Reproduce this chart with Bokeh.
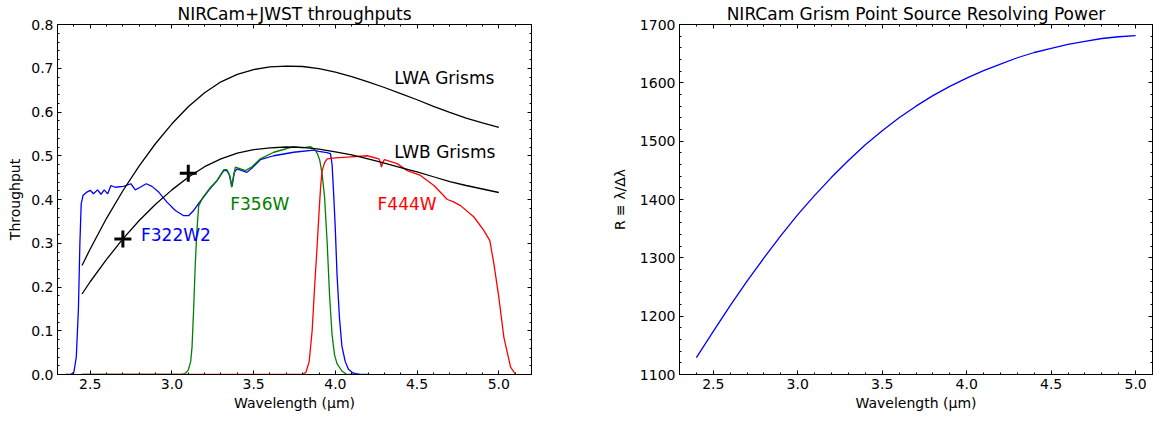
import numpy as np
from bokeh.plotting import figure
from bokeh.layouts import row
from bokeh.models import LinearAxis, FixedTicker, PrintfTickFormatter, Label, Range1d
from bokeh.embed import file_html
from bokeh.resources import INLINE

FONT = "DejaVu Sans"

# ---------------- data: left panel (throughputs) ----------------
grism_wl = [2.45, 2.5, 2.6, 2.7, 2.8, 2.9, 3.0, 3.1, 3.2, 3.3, 3.4, 3.5, 3.6, 3.7,
            3.8, 3.9, 4.0, 4.1, 4.2, 4.3, 4.4, 4.5, 4.6, 4.7, 4.8, 4.9, 5.0]
lwa_tp = [0.249, 0.287, 0.357, 0.420, 0.477, 0.528, 0.573, 0.612, 0.644, 0.669, 0.686,
          0.697, 0.703, 0.705, 0.704, 0.699, 0.691, 0.681, 0.669, 0.656, 0.642, 0.628,
          0.613, 0.599, 0.586, 0.575, 0.565]
lwb_tp = [0.184, 0.212, 0.263, 0.310, 0.352, 0.389, 0.422, 0.451, 0.475, 0.493, 0.506,
          0.514, 0.518, 0.520, 0.519, 0.515, 0.509, 0.502, 0.493, 0.483, 0.473, 0.463,
          0.452, 0.441, 0.432, 0.424, 0.416]

f322w2_wl = [2.35, 2.38, 2.40, 2.415, 2.428, 2.437, 2.445, 2.456, 2.48, 2.5, 2.52, 2.545,
             2.566, 2.586, 2.607, 2.627, 2.653, 2.704, 2.749, 2.776, 2.806, 2.843, 2.878,
             2.919, 2.97, 3.021, 3.072, 3.102, 3.133, 3.174, 3.225, 3.276, 3.317, 3.337,
             3.353, 3.368, 3.382, 3.398, 3.429, 3.459, 3.49, 3.541, 3.623, 3.745, 3.868,
             3.898, 3.949, 3.97, 3.98, 3.99, 4.0, 4.01, 4.025, 4.04, 4.06, 4.08, 4.11,
             4.15, 4.2]
f322w2_tp = [0.0, 0.0, 0.005, 0.04, 0.15, 0.30, 0.39, 0.409, 0.417, 0.421, 0.413, 0.422,
             0.412, 0.422, 0.413, 0.432, 0.428, 0.430, 0.436, 0.422, 0.428, 0.436, 0.430,
             0.417, 0.394, 0.375, 0.363, 0.363, 0.375, 0.396, 0.421, 0.443, 0.466, 0.466,
             0.455, 0.430, 0.462, 0.470, 0.466, 0.462, 0.472, 0.491, 0.500, 0.508, 0.513,
             0.510, 0.507, 0.505, 0.480, 0.410, 0.330, 0.230, 0.130, 0.065, 0.030, 0.012,
             0.003, 0.0, 0.0]

f356w_wl = [2.45, 3.06, 3.08, 3.1, 3.115, 3.123, 3.133, 3.143, 3.153, 3.164, 3.19, 3.23,
            3.276, 3.317, 3.337, 3.353, 3.365, 3.375, 3.388, 3.42, 3.45, 3.49, 3.541,
            3.623, 3.7, 3.745, 3.8, 3.847, 3.87, 3.89, 3.905, 3.92, 3.934, 3.95, 3.965,
            3.98, 3.995, 4.01, 4.04, 4.07, 4.15]
f356w_tp = [0.0, 0.0, 0.002, 0.01, 0.03, 0.062, 0.15, 0.253, 0.33, 0.386, 0.405, 0.425,
            0.443, 0.468, 0.468, 0.455, 0.428, 0.450, 0.474, 0.470, 0.466, 0.475, 0.493,
            0.508, 0.516, 0.521, 0.518, 0.521, 0.515, 0.505, 0.489, 0.455, 0.405, 0.300,
            0.177, 0.090, 0.045, 0.025, 0.008, 0.0, 0.0]

f444w_wl = [2.45, 3.8, 3.82, 3.84, 3.858, 3.873, 3.888, 3.9, 3.91, 3.919, 3.935, 3.95,
            4.0, 4.072, 4.195, 4.266, 4.275, 4.282, 4.29, 4.3, 4.378, 4.44, 4.521, 4.603,
            4.685, 4.72, 4.766, 4.848, 4.909, 4.945, 4.97, 5.0, 5.031, 5.072, 5.103]
f444w_tp = [0.0, 0.0, 0.005, 0.03, 0.10, 0.20, 0.291, 0.37, 0.43, 0.466, 0.485, 0.493,
            0.495, 0.497, 0.500, 0.493, 0.485, 0.474, 0.485, 0.491, 0.482, 0.466, 0.455,
            0.432, 0.400, 0.395, 0.386, 0.360, 0.329, 0.306, 0.253, 0.177, 0.085, 0.017,
            0.0]

marker_wl = [2.7, 3.1]
marker_tp = [0.31, 0.46]

# ---------------- data: right panel (resolving power) ----------------
res_wl = [2.4, 2.5, 2.6, 2.7, 2.8, 2.9, 3.0, 3.1, 3.2, 3.3, 3.4, 3.5, 3.6, 3.7, 3.8,
          3.9, 4.0, 4.1, 4.2, 4.3, 4.4, 4.5, 4.6, 4.7, 4.8, 4.9, 5.0]
res_power = [1129, 1174, 1218, 1260, 1300, 1338, 1374, 1407, 1438, 1467, 1494, 1518,
             1540, 1560, 1578, 1594, 1608, 1621, 1632, 1643, 1652, 1659, 1666, 1671,
             1676, 1679, 1681]

# ---------------- ticks / labels ----------------
left_x_major = [2.5, 3.0, 3.5, 4.0, 4.5, 5.0]
left_x_minor = [round(v, 2) for v in np.arange(2.3, 5.201, 0.1)]
left_y_major = [round(v, 2) for v in np.arange(0.0, 0.801, 0.1)]
left_y_minor = [round(v, 3) for v in np.arange(0.0, 0.801, 0.02)]
right_x_major = [2.5, 3.0, 3.5, 4.0, 4.5, 5.0]
right_x_minor = [round(v, 2) for v in np.arange(2.3, 5.101, 0.1)]
right_y_major = [1100, 1200, 1300, 1400, 1500, 1600, 1700]
right_y_minor = list(range(1100, 1701, 20))

left_title = "NIRCam+JWST throughputs"
right_title = "NIRCam Grism Point Source Resolving Power"
x_label = "Wavelength (μm)"
left_y_label = "Throughput"
right_y_label = "R ≡ λ/Δλ"


def style_axis(ax, ticker, fmt=None, show_labels=True):
    ax.ticker = ticker
    ax.major_tick_in = 4
    ax.major_tick_out = 0
    ax.minor_tick_in = 2
    ax.minor_tick_out = 0
    ax.major_tick_line_color = "black"
    ax.minor_tick_line_color = "black"
    ax.axis_line_color = "black"
    ax.axis_line_width = 1
    if show_labels:
        ax.formatter = fmt
        ax.major_label_text_font = FONT
        ax.major_label_text_font_size = "14px"
        ax.major_label_text_color = "black"
        ax.major_label_standoff = 4
        ax.axis_label_text_font = FONT
        ax.axis_label_text_font_size = "14px"
        ax.axis_label_text_font_style = "normal"
        ax.axis_label_text_color = "black"
    else:
        ax.major_label_text_font_size = "0px"
        ax.major_label_text_color = None
        ax.major_label_standoff = 0
        ax.axis_label = None


def make_fig(width, title, xr, yr, mbl, mbr, xmaj, xmin, ymaj, ymin, xfmt, yfmt, ylabel,
             ylab_standoff):
    p = figure(width=width, height=422, x_range=Range1d(*xr), y_range=Range1d(*yr),
               title=title, output_backend="svg", toolbar_location=None,
               min_border_left=mbl, min_border_right=mbr, min_border_top=24,
               min_border_bottom=48)
    p.title.text_font = FONT
    p.title.text_font_size = "17px"
    p.title.text_font_style = "normal"
    p.title.text_color = "black"
    p.title.align = "center"
    p.title.standoff = 2
    p.xgrid.grid_line_color = None
    p.ygrid.grid_line_color = None
    p.outline_line_color = "black"
    p.outline_line_alpha = 1.0
    p.background_fill_color = "white"
    p.border_fill_color = "white"
    xt = FixedTicker(ticks=xmaj, minor_ticks=xmin)
    yt = FixedTicker(ticks=ymaj, minor_ticks=ymin)
    style_axis(p.xaxis[0], xt, PrintfTickFormatter(format=xfmt))
    style_axis(p.yaxis[0], yt, PrintfTickFormatter(format=yfmt))
    p.xaxis[0].axis_label = x_label
    p.xaxis[0].axis_label_standoff = 3
    p.yaxis[0].axis_label = ylabel
    p.yaxis[0].axis_label_standoff = ylab_standoff
    top = LinearAxis()
    style_axis(top, FixedTicker(ticks=xmaj, minor_ticks=xmin), show_labels=False)
    p.add_layout(top, "above")
    rgt = LinearAxis()
    style_axis(rgt, FixedTicker(ticks=ymaj, minor_ticks=ymin), show_labels=False)
    p.add_layout(rgt, "right")
    return p


# ---------------- left figure ----------------
p1 = make_fig(608, left_title, (2.3, 5.2), (0.0, 0.8), 57, 77, left_x_major, left_x_minor,
              left_y_major, left_y_minor, "%.1f", "%.1f", left_y_label, 5)

p1.line(f322w2_wl, f322w2_tp, line_color="#0000ff", line_width=1.3)
p1.line(f356w_wl, f356w_tp, line_color="#008000", line_width=1.3)
p1.line(f444w_wl, f444w_tp, line_color="#ff0000", line_width=1.3)
p1.line(grism_wl, lwa_tp, line_color="black", line_width=1.3)
p1.line(grism_wl, lwb_tp, line_color="black", line_width=1.3)
p1.scatter(marker_wl, marker_tp, marker="cross", size=17, line_width=3, line_color="black")

ann = [("LWA Grisms", 4.361, 0.678, "black"),
       ("LWB Grisms", 4.361, 0.508, "black"),
       ("F322W2", 2.811, 0.318, "#0000ff"),
       ("F356W", 3.357, 0.390, "#008000"),
       ("F444W", 4.258, 0.390, "#ff0000")]
for txt, x, y, c in ann:
    p1.add_layout(Label(x=x, y=y, text=txt, text_color=c, text_font=FONT,
                        text_font_size="17px", text_align="left", text_baseline="middle"))

# ---------------- right figure ----------------
p2 = make_fig(550, right_title, (2.3, 5.1), (1100, 1700), 70, 6, right_x_major,
              right_x_minor, right_y_major, right_y_minor, "%.1f", "%d", right_y_label, 9)
p2.line(res_wl, res_power, line_color="#0000ff", line_width=1.3)

layout = row(p1, p2)
open("out.html", "w").write(file_html(layout, INLINE))
